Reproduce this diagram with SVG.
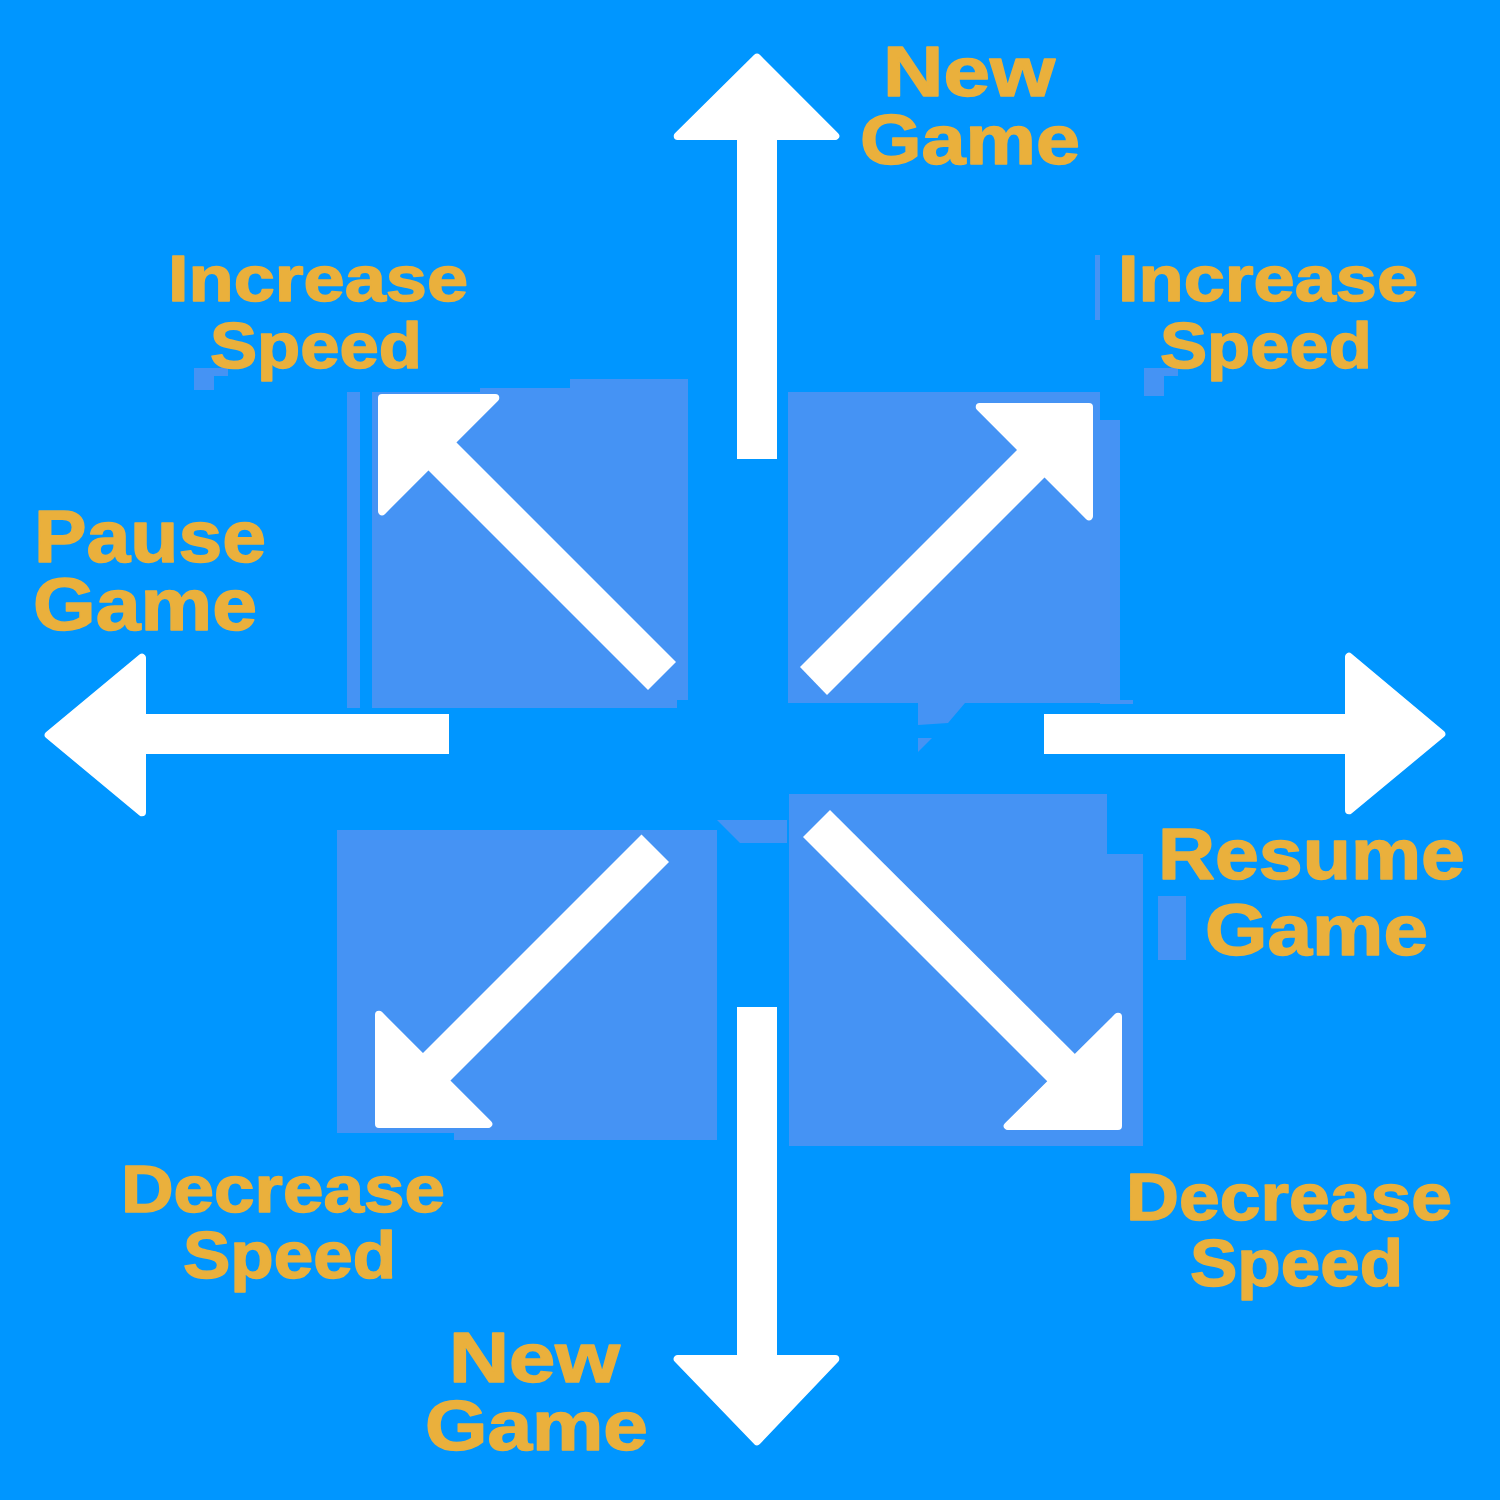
<svg xmlns="http://www.w3.org/2000/svg" width="1500" height="1500" viewBox="0 0 1500 1500">
<style>
.bg{fill:#0096FF}
.pn{fill:#4593F4}
.hd{fill:#FFFFFF;stroke:#FFFFFF;stroke-width:8;stroke-linejoin:round}
.sh{fill:#FFFFFF}
.lb{font-family:"Liberation Sans",Arial,sans-serif;font-weight:bold;fill:#EAB03C;stroke:#EAB03C;stroke-width:1.5;stroke-linejoin:round}
</style>
<rect class="bg" x="0" y="0" width="1500" height="1500"/>

<g id="panels">
  <g id="panel-tl">
    <rect class="pn" x="347" y="392" width="13" height="316"/>
    <rect class="pn" x="372" y="392" width="305" height="316"/>
    <rect class="pn" x="480" y="388" width="90" height="10"/>
    <rect class="pn" x="570" y="379" width="118" height="321"/>
    <rect class="pn" x="194" y="368" width="20" height="22"/>
    <rect class="pn" x="214" y="368" width="14" height="8"/>
  </g>
  <g id="panel-tr">
    <rect class="pn" x="788" y="392" width="312" height="311"/>
    <rect class="pn" x="1100" y="420" width="20" height="283"/>
    <rect class="pn" x="1100" y="700" width="33" height="4"/>
    <polygon class="pn" points="918,703 965,703 948,723 918,725"/>
    <polygon class="pn" points="918,738 932,738 918,752"/>
    <rect class="pn" x="1144" y="368" width="20" height="28"/>
    <rect class="pn" x="1164" y="368" width="14" height="8"/>
    <rect class="pn" x="1095" y="255" width="5" height="65"/>
  </g>
  <g id="panel-bl">
    <rect class="pn" x="337" y="830" width="380" height="303"/>
    <rect class="pn" x="454" y="1133" width="263" height="7"/>
    <polygon class="pn" points="717,820 787,820 787,843 740,843"/>
  </g>
  <g id="panel-br">
    <rect class="pn" x="789" y="794" width="318" height="352"/>
    <rect class="pn" x="1107" y="854" width="36" height="292"/>
    <rect class="pn" x="1158" y="896" width="28" height="64"/>
  </g>
</g>

<g id="connectors">
  <g id="arrow-up">
    <rect class="sh" x="737" y="130" width="40" height="329"/>
    <polygon class="hd" points="757,57.7 835.3,136 677.7,136"/>
  </g>
  <g id="arrow-down">
    <rect class="sh" x="737" y="1007" width="40" height="358"/>
    <polygon class="hd" points="677.7,1359 835.3,1359 757,1441.3"/>
  </g>
  <g id="arrow-left">
    <rect class="sh" x="130" y="714" width="319" height="40"/>
    <polygon class="hd" points="48.7,735 142,657.7 142,812.3"/>
  </g>
  <g id="arrow-right">
    <rect class="sh" x="1044" y="714" width="319" height="40"/>
    <polygon class="hd" points="1441.3,734 1349,656.7 1349,810.3"/>
  </g>
  <g id="arrow-tl">
    <polygon class="sh" points="440,426 676,662 648,690 412,454"/>
    <polygon class="hd" points="382,398 495.3,398 382,511.3"/>
  </g>
  <g id="arrow-tr">
    <polygon class="sh" points="1028.5,438.5 1056,466 827,695 800,667"/>
    <polygon class="hd" points="1089,407 979.7,407 1089,516.3"/>
  </g>
  <g id="arrow-bl">
    <polygon class="sh" points="413,1063 440.5,1090.5 669,862 641.5,834.5"/>
    <polygon class="hd" points="379,1124 379,1014.7 488.3,1124"/>
  </g>
  <g id="arrow-br">
    <polygon class="sh" points="830,810 803,837 1058,1092 1085.5,1064.5"/>
    <polygon class="hd" points="1118,1126 1118,1016.7 1007.7,1126"/>
  </g>
</g>

<g id="labels">
  <g id="label-new-top">
    <text class="lb" x="883" y="96" font-size="70" textLength="172" lengthAdjust="spacingAndGlyphs">New</text>
    <text class="lb" x="860" y="164" font-size="70" textLength="220" lengthAdjust="spacingAndGlyphs">Game</text>
  </g>
  <g id="label-inc-tl">
    <text class="lb" x="168" y="301" font-size="64" textLength="300" lengthAdjust="spacingAndGlyphs">Increase</text>
    <text class="lb" x="210" y="368" font-size="64" textLength="212" lengthAdjust="spacingAndGlyphs">Speed</text>
  </g>
  <g id="label-inc-tr">
    <text class="lb" x="1118" y="301" font-size="64" textLength="300" lengthAdjust="spacingAndGlyphs">Increase</text>
    <text class="lb" x="1160" y="368" font-size="64" textLength="212" lengthAdjust="spacingAndGlyphs">Speed</text>
  </g>
  <g id="label-pause">
    <text class="lb" x="34" y="562" font-size="74" textLength="232" lengthAdjust="spacingAndGlyphs">Pause</text>
    <text class="lb" x="33" y="630" font-size="74" textLength="224" lengthAdjust="spacingAndGlyphs">Game</text>
  </g>
  <g id="label-resume">
    <text class="lb" x="1158" y="879" font-size="72" textLength="307" lengthAdjust="spacingAndGlyphs">Resume</text>
    <text class="lb" x="1205" y="955" font-size="72" textLength="223" lengthAdjust="spacingAndGlyphs">Game</text>
  </g>
  <g id="label-dec-bl">
    <text class="lb" x="121" y="1212" font-size="66" textLength="324" lengthAdjust="spacingAndGlyphs">Decrease</text>
    <text class="lb" x="183" y="1278" font-size="66" textLength="213" lengthAdjust="spacingAndGlyphs">Speed</text>
  </g>
  <g id="label-dec-br">
    <text class="lb" x="1126" y="1220" font-size="66" textLength="326" lengthAdjust="spacingAndGlyphs">Decrease</text>
    <text class="lb" x="1190" y="1286" font-size="66" textLength="213" lengthAdjust="spacingAndGlyphs">Speed</text>
  </g>
  <g id="label-new-bottom">
    <text class="lb" x="449" y="1382" font-size="70" textLength="171" lengthAdjust="spacingAndGlyphs">New</text>
    <text class="lb" x="425" y="1450" font-size="70" textLength="223" lengthAdjust="spacingAndGlyphs">Game</text>
  </g>
</g>
</svg>
